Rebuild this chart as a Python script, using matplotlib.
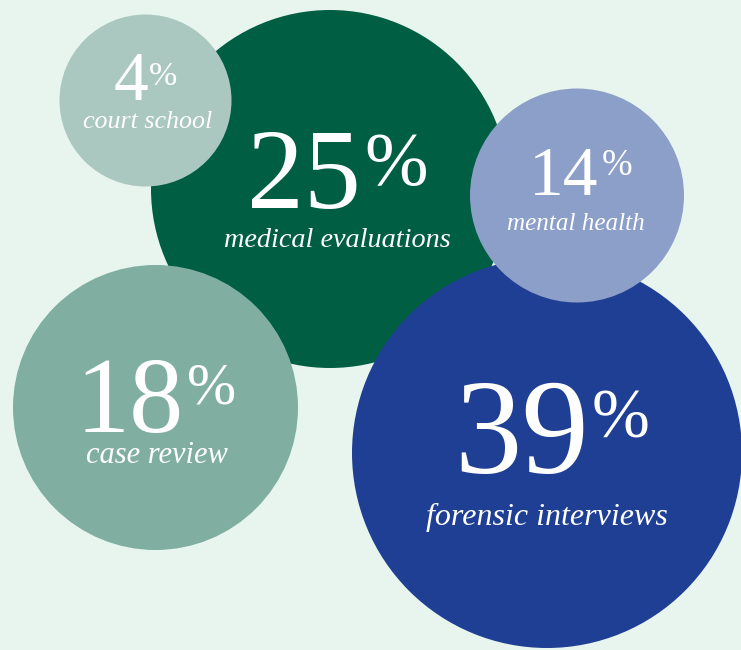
import matplotlib
matplotlib.use("Agg")
import matplotlib.pyplot as plt
from matplotlib.patches import Circle

# datos
porcentajes = [25, 18, 39, 14, 4]
etiquetas = ["medical evaluations", "case review", "forensic interviews",
             "mental health", "court school"]

# layout (pixels, y hacia abajo)
centros = [(330, 189), (155.5, 407.5), (547, 453), (577, 195.5), (145.5, 100.5)]
radios = [179, 142.5, 195, 107, 86]
colores = ["#005E43", "#80AFA2", "#1F3F94", "#8C9FC9", "#ABC8C0"]
# numero: tamaño, borde derecho, baseline
tam_num = [82, 78, 97, 50, 50]
x_num = [361, 184, 589, 598, 148]
y_num = [208, 432, 473, 195, 100]
# el %: tamaño, borde izq, baseline
tam_pct = [55, 42.5, 50, 26.5, 24.5]
x_pct = [364, 187, 592, 602, 149]
y_pct = [185, 403, 437, 175, 85]
# etiqueta
tam_lab = [20.3, 22, 23, 18.1, 18.7]
x_lab = [337.5, 156.5, 546.5, 576, 147.5]
y_lab = [247, 463, 525, 230, 128]

fondo = "#E8F5EF"
fuente = "Liberation Serif"

fig = plt.figure(figsize=(7.41, 6.5), dpi=100)
fig.patch.set_facecolor(fondo)
ax = fig.add_axes([0, 0, 1, 1])
ax.set_facecolor(fondo)
ax.set_xlim(0, 741)
ax.set_ylim(650, 0)
ax.set_aspect("equal")
ax.axis("off")

for i in range(len(porcentajes)):
    ax.add_patch(Circle(centros[i], radios[i], color=colores[i], lw=0, zorder=i + 1))
    z = 10 + i
    ax.text(x_num[i], y_num[i], str(porcentajes[i]), fontsize=tam_num[i],
            family=fuente, color="white", ha="right", va="baseline", zorder=z)
    ax.text(x_pct[i], y_pct[i], "%", fontsize=tam_pct[i],
            family=fuente, color="white", ha="left", va="baseline", zorder=z)
    ax.text(x_lab[i], y_lab[i], etiquetas[i], fontsize=tam_lab[i], family=fuente,
            style="italic", color="white", ha="center", va="baseline", zorder=z)

fig.savefig("out.png", dpi=100, facecolor=fondo)
